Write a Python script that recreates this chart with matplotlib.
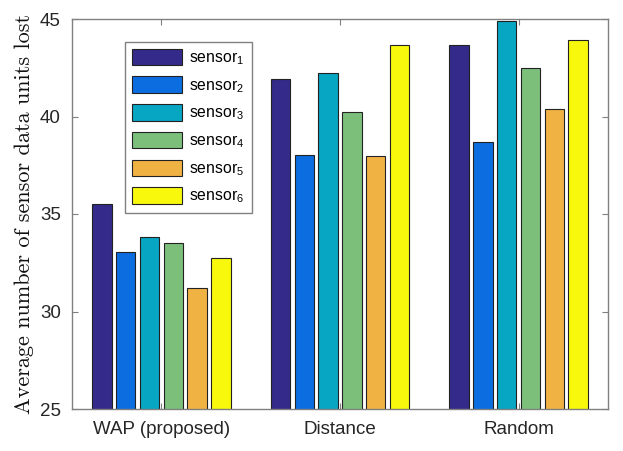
import matplotlib
matplotlib.use("Agg")
import matplotlib.pyplot as plt
import numpy as np

plt.rcParams['mathtext.fontset'] = 'custom'
plt.rcParams['mathtext.rm'] = 'Liberation Sans'
plt.rcParams['mathtext.it'] = 'Liberation Sans:italic'

categories = ["WAP (proposed)", "Distance", "Random"]
sensor_labels = [r"sensor$_{\mathrm{%d}}$" % i for i in range(1, 7)]
sensor1 = [35.5, 41.9, 43.65]
sensor2 = [33.05, 38.05, 38.7]
sensor3 = [33.8, 42.25, 44.9]
sensor4 = [33.5, 40.25, 42.5]
sensor5 = [31.2, 37.95, 40.4]
sensor6 = [32.75, 43.65, 43.9]
series = [sensor1, sensor2, sensor3, sensor4, sensor5, sensor6]
colors = ["#332a89", "#0b6de0", "#07a6c2", "#7cbf7b", "#f1b244", "#f8f80c"]
yticks = [25, 30, 35, 40, 45]

fig = plt.figure(figsize=(6.23, 4.51), dpi=100)
ax = fig.add_axes([72/623, 1-409/451, (608-72)/623, (409-19)/451])

x = np.arange(1, len(categories) + 1)
pitch = 0.8 / 6
width = 0.109
for i, (vals, c, lab) in enumerate(zip(series, colors, sensor_labels)):
    ax.bar(x + (i - 2.5) * pitch, vals, width=width, color=c,
           edgecolor="#222222", linewidth=0.8, label=lab, zorder=2)

ax.set_xlim(0.5, 3.5)
ax.set_ylim(25, 45)
ax.set_xticks(x)
ax.set_xticklabels(categories, fontsize=13.5, family="Liberation Sans", color="#262626")
ax.set_yticks(yticks)
ax.set_yticklabels([str(v) for v in yticks], fontsize=13.5, family="Liberation Sans", color="#262626")
ax.tick_params(direction="in", top=True, right=True, length=4, width=0.8,
               color="#808080")
ax.tick_params(axis="x", pad=9)
ax.tick_params(axis="y", pad=8)
for s in ax.spines.values():
    s.set_color("#808080")
    s.set_linewidth(1.0)

ax.set_ylabel("Average number of sensor data units lost", family="cmr10",
              fontsize=16, labelpad=4, color="#111111")

leg = ax.legend(loc="upper left", bbox_to_anchor=((125-72)/536, (409-41.7)/390),
                borderaxespad=0, fancybox=False, edgecolor="#808080",
                prop={"family": "Liberation Sans", "size": 11.3},
                handlelength=3.2, handleheight=1.25, labelspacing=0.6,
                handletextpad=0.45, borderpad=0.45, framealpha=1)
leg.get_frame().set_linewidth(1.0)

fig.savefig("out.png", dpi=100)
